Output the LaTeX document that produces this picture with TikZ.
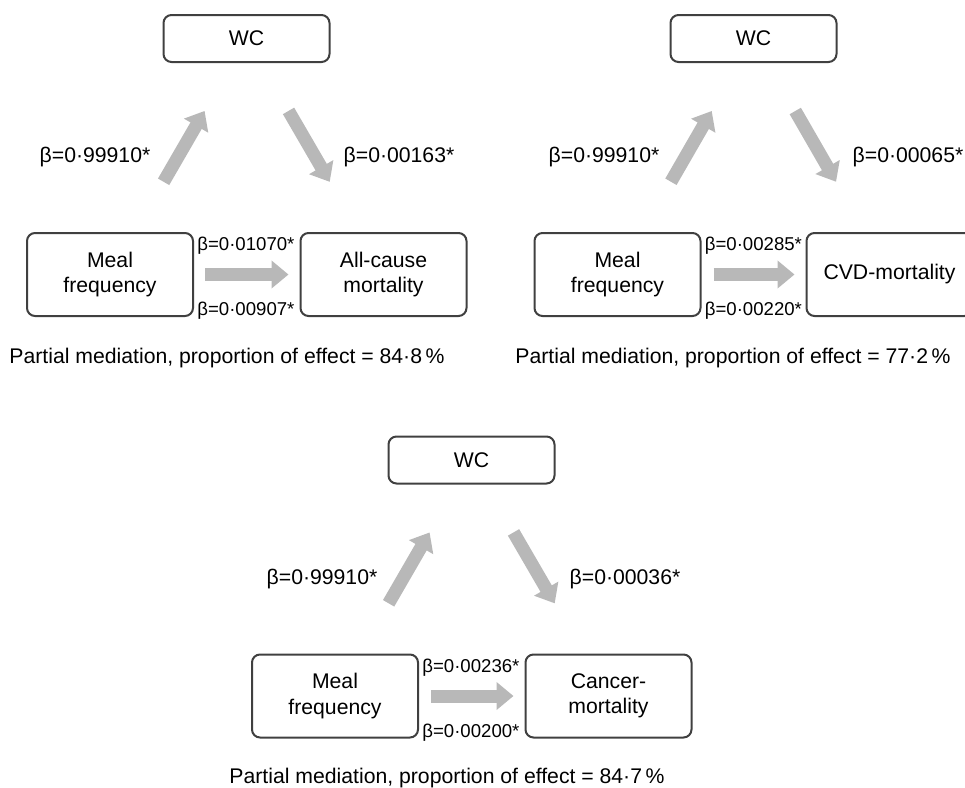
\documentclass[tikz,border=0pt]{standalone}
\usepackage{fontspec}
\setmainfont{Liberation Sans}
\usetikzlibrary{arrows.meta,positioning}

\definecolor{boxline}{RGB}{64,64,64}
\definecolor{arrowgray}{RGB}{184,184,184}

\tikzset{
	varbox/.style={draw=boxline,line width=1pt,rounded corners=4pt,minimum width=83pt,minimum height=41.5pt,align=center,inner sep=0pt,font=\fontsize{10.6}{12.6}\selectfont},
	wcbox/.style={varbox,minimum height=23.5pt},
	bigarrow/.style={draw=arrowgray,line width=6.5pt,-{Triangle[width=13.5pt,length=8.5pt]}},
	coef/.style={inner sep=0pt,font=\fontsize{10.6}{12.6}\selectfont},
	smallcoef/.style={inner sep=0pt,font=\fontsize{9.3}{11}\selectfont},
	caption/.style={inner sep=0pt,font=\fontsize{10.6}{12.6}\selectfont}
}

\begin{document}
\begin{tikzpicture}[x=0.5pt,y=-0.5pt]
		\useasboundingbox (0,0) rectangle (965,788);
		\clip (0,0) rectangle (965,788);
		
		% all-cause mortality
		\node[wcbox] (wcA) at (246.5,38.5) {WC};
		\node[varbox] (mealA) at (110,274.5) {Meal\\frequency};
		\node[varbox] (allA) at (383.5,274.5) {All-cause\\mortality};
		
		\draw[bigarrow,shorten <=29pt,shorten >=27.7pt] (mealA) -- (wcA);
		\draw[bigarrow,shorten <=27.7pt,shorten >=29pt] (wcA) -- (allA);
		\draw[bigarrow,shorten <=5.5pt,shorten >=5.5pt] (mealA) -- (allA);
		
		\node[coef] (aA) at (95,157) {β=0·99910*};
		\node[coef] (bA) at (399,157) {β=0·00163*};
		\node[smallcoef,anchor=north west] (cA) at ([xshift=1.5pt,yshift=-2.5pt]mealA.north east) {β=0·01070*};
		\node[smallcoef,anchor=south west] (dA) at ([xshift=1.5pt,yshift=-1.5pt]mealA.south east) {β=0·00907*};
		\node[caption] (capA) at (227,358) {Partial mediation, proportion of effect = 84·8\,\%};
		
		% CVD mortality
		\node[wcbox] (wcB) at (753.5,38.5) {WC};
		\node[varbox] (mealB) at (617.5,274.5) {Meal\\frequency};
		\node[varbox] (cvdB) at (889.5,274.5) {CVD-mortality};
		
		\draw[bigarrow,shorten <=29pt,shorten >=27.7pt] (mealB) -- (wcB);
		\draw[bigarrow,shorten <=27.7pt,shorten >=29pt] (wcB) -- (cvdB);
		\draw[bigarrow,shorten <=6pt,shorten >=5.5pt] (mealB) -- (cvdB);
		
		\node[coef] (aB) at (604,157) {β=0·99910*};
		\node[coef] (bB) at (908,157) {β=0·00065*};
		\node[smallcoef,anchor=north west] (cB) at ([xshift=1.5pt,yshift=-2.5pt]mealB.north east) {β=0·00285*};
		\node[smallcoef,anchor=south west] (dB) at ([xshift=1.5pt,yshift=-1.5pt]mealB.south east) {β=0·00220*};
		\node[caption] (capB) at (733,358) {Partial mediation, proportion of effect = 77·2\,\%};
		
		% cancer mortality
		\node[wcbox] (wcC) at (471.5,460) {WC};
		\node[varbox] (mealC) at (335,696) {Meal\\frequency};
		\node[varbox] (canC) at (608.5,696) {Cancer-\\mortality};
		
		\draw[bigarrow,shorten <=29pt,shorten >=27.7pt] (mealC) -- (wcC);
		\draw[bigarrow,shorten <=27.7pt,shorten >=29pt] (wcC) -- (canC);
		\draw[bigarrow,shorten <=6pt,shorten >=5.5pt] (mealC) -- (canC);
		
		\node[coef] (aC) at (322,579) {β=0·99910*};
		\node[coef] (bC) at (625,579) {β=0·00036*};
		\node[smallcoef,anchor=north west] (cC) at ([xshift=1.5pt,yshift=-2.5pt]mealC.north east) {β=0·00236*};
		\node[smallcoef,anchor=south west] (dC) at ([xshift=1.5pt,yshift=-1.5pt]mealC.south east) {β=0·00200*};
		\node[caption] (capC) at (447,778) {Partial mediation, proportion of effect = 84·7\,\%};
		
\end{tikzpicture}
\end{document}
